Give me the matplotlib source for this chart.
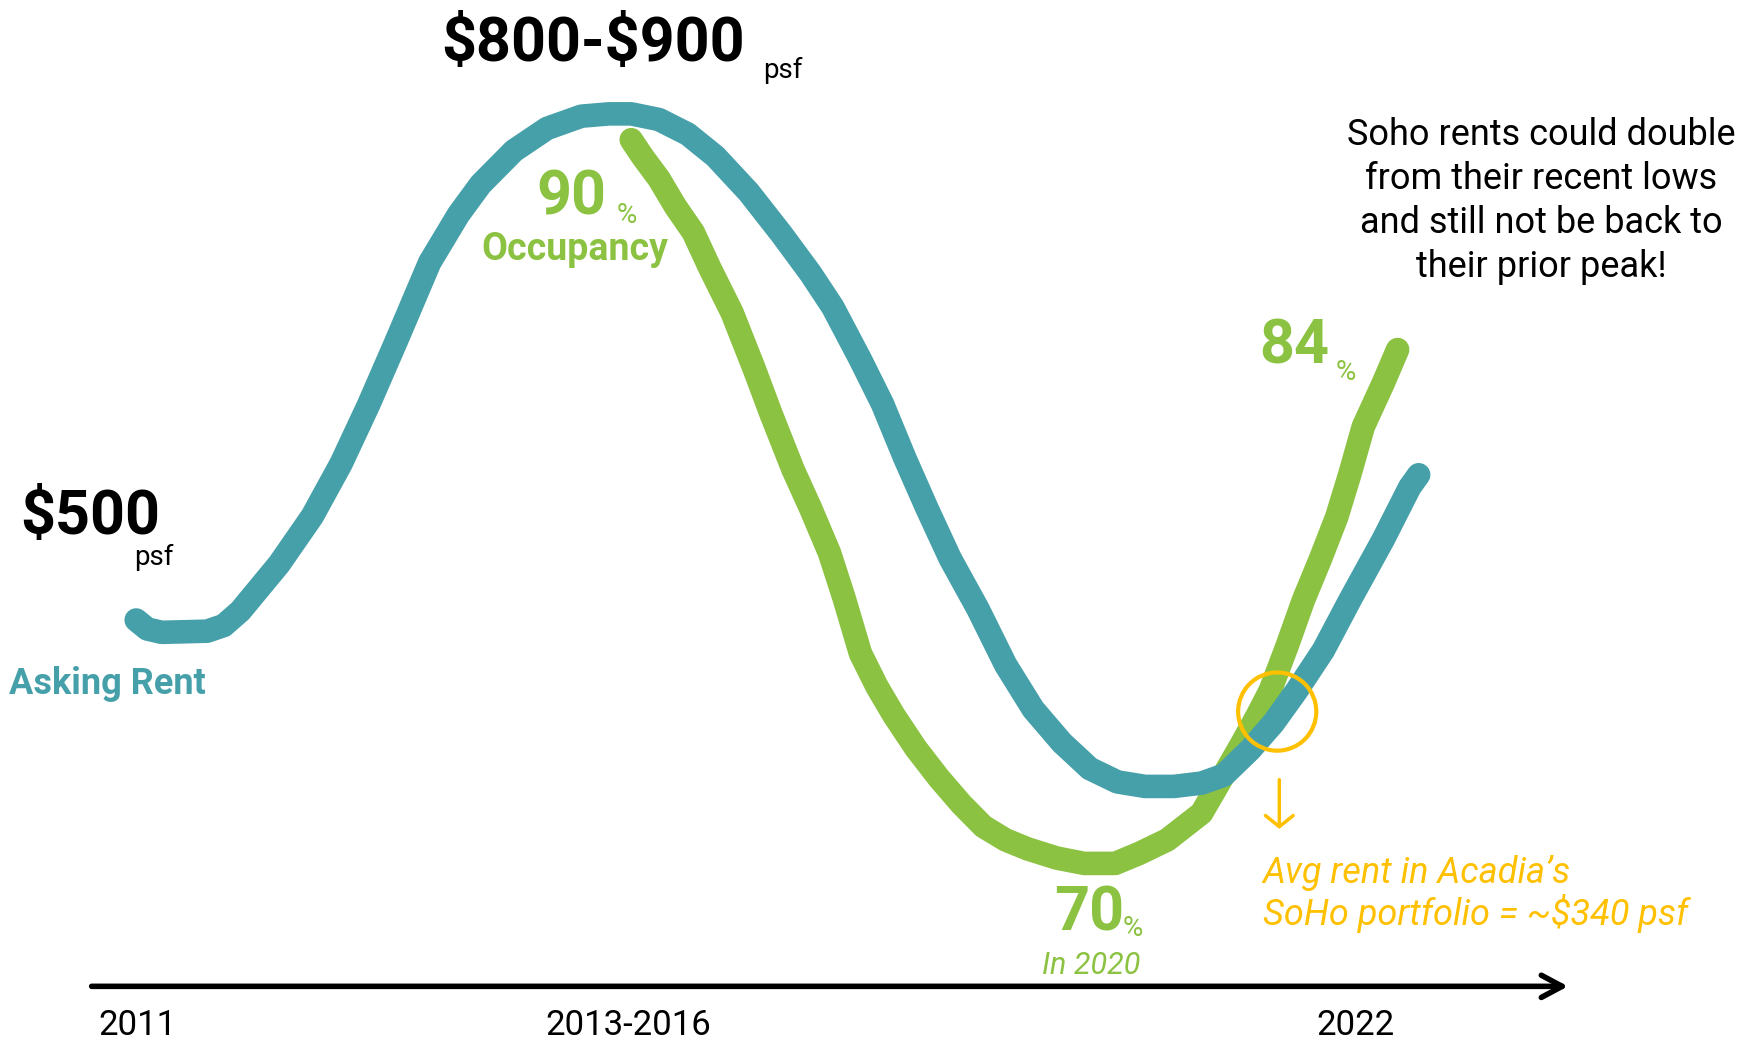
import matplotlib.pyplot as plt
from matplotlib.patches import Ellipse

plt.rcParams["font.family"] = ["Roboto", "DejaVu Sans"]

TEAL = "#46a0a9"
GREEN = "#8bc241"
ORANGE = "#ffc000"

# Asking rent ($ psf)
rent_years = [2010.99, 2011.09, 2011.22, 2011.63, 2011.78, 2011.93, 2012.28, 2012.58,
              2012.84, 2013.09, 2013.34, 2013.64, 2013.90, 2014.10, 2014.40, 2014.70,
              2015.01, 2015.26, 2015.46, 2015.71, 2015.97, 2016.22, 2016.52, 2016.82,
              2017.08, 2017.28, 2017.53, 2017.73, 2017.93, 2018.13, 2018.34, 2018.59,
              2018.84, 2019.09, 2019.35, 2019.60, 2019.85, 2020.10, 2020.36, 2020.61,
              2020.81, 2021.05, 2021.26, 2021.47, 2021.71, 2021.95, 2022.25, 2022.49,
              2022.57]
rent_values = [500.0, 493.8, 491.5, 492.3, 496.2, 506.2, 538.5, 571.5,
               607.7, 648.5, 692.3, 746.2, 779.2, 800.0, 823.1, 838.5,
               846.9, 848.5, 848.5, 844.6, 834.6, 819.2, 794.6, 765.4,
               738.5, 715.4, 679.2, 648.5, 611.5, 576.9, 542.3, 507.7,
               469.2, 438.5, 415.4, 397.7, 388.5, 385.4, 385.4, 387.7,
               393.1, 410.8, 429.2, 451.5, 479.2, 513.8, 555.4, 591.5,
               600.0]

# Occupancy (%)
occ_years = [2015.46, 2015.56, 2015.71, 2015.86, 2016.02, 2016.17, 2016.37, 2016.57,
             2016.72, 2016.92, 2017.08, 2017.25, 2017.38, 2017.53, 2017.68, 2017.83,
             2018.03, 2018.24, 2018.44, 2018.64, 2018.84, 2019.04, 2019.30, 2019.55,
             2019.83, 2020.05, 2020.30, 2020.61, 2020.75, 2020.96, 2021.11, 2021.23,
             2021.38, 2021.53, 2021.68, 2021.83, 2021.95, 2022.07, 2022.25, 2022.38]
occ_values = [90.00, 89.54, 88.92, 88.15, 87.44, 86.45, 85.22, 83.67,
              82.44, 80.89, 79.81, 78.58, 77.35, 75.80, 74.88, 74.10,
              73.18, 72.35, 71.64, 71.02, 70.65, 70.40, 70.15, 70.00,
              70.00, 70.28, 70.65, 71.39, 72.13, 73.24, 74.07, 74.78,
              75.99, 77.28, 78.39, 79.57, 80.77, 82.07, 83.27, 84.20]

timeline_labels = ["2011", "2013-2016", "2022"]
timeline_pos = [2011, 2015.43, 2022]

soho_note = ["Soho rents could double", "from their recent lows",
             "and still not be back to", "their prior peak!"]
acadia_note = ["Avg rent in Acadia\u2019s", "SoHo portfolio = ~\\$340 psf"]

fig = plt.figure(figsize=(17.52, 10.4), dpi=100)
fig.patch.set_facecolor("white")

ax = fig.add_axes([0, 0, 1, 1])
ax.set_xlim(2009.76, 2025.58)
ax.set_ylim(65.12, 93.86)
ax.axis("off")

ax_rent = ax.twinx()
ax_rent.set_ylim(210.8, 926.9)
ax_rent.axis("off")

ax.plot(occ_years, occ_values, color=GREEN, lw=17,
        solid_capstyle="round", solid_joinstyle="round")
ax_rent.plot(rent_years, rent_values, color=TEAL, lw=17,
             solid_capstyle="round", solid_joinstyle="round")

# crossover highlight + note arrow
ax_rent.add_patch(Ellipse((0.729, 0.3158), 0.0446, 0.0752, transform=ax_rent.transAxes,
                          fill=False, ec=ORANGE, lw=3, zorder=5))
ax_rent.annotate("", xy=(0.7302, 0.203), xytext=(0.7302, 0.2503),
                 xycoords="axes fraction", textcoords="axes fraction",
                 arrowprops=dict(arrowstyle="->,head_length=0.4,head_width=0.5",
                                 mutation_scale=20, lw=2.5, color=ORANGE,
                                 shrinkA=0, shrinkB=0))

# timeline
ax_rent.annotate("", xy=(0.895, 0.0516), xytext=(0.0523, 0.0516),
                 xycoords="axes fraction", textcoords="axes fraction",
                 arrowprops=dict(arrowstyle="->,head_length=0.75,head_width=0.4",
                                 mutation_scale=20, lw=4, color="black",
                                 shrinkA=0, shrinkB=0))
for lab, pos in zip(timeline_labels, timeline_pos):
    ax_rent.text(pos, 0.005, lab, transform=ax_rent.get_xaxis_transform(),
                 ha="center", va="baseline", fontsize=25, color="black")

# rent labels
fig.text(0.2519, 0.9409, "\\$800-\\$900", fontsize=44, fontweight="bold", va="baseline")
fig.text(0.4356, 0.9248, "psf", fontsize=20, va="baseline")
fig.text(0.0115, 0.4866, "\\$500", fontsize=44, fontweight="bold", va="baseline")
fig.text(0.0765, 0.4570, "psf", fontsize=20, va="baseline")
fig.text(0.0051, 0.3330, "Asking Rent", fontsize=26, fontweight="bold",
         color=TEAL, va="baseline")

# occupancy labels
fig.text(0.3061, 0.7938, "90", fontsize=44, fontweight="bold", color=GREEN, va="baseline")
fig.text(0.3520, 0.7852, "%", fontsize=20, color=GREEN, va="baseline")
fig.text(0.2749, 0.7497, "Occupancy", fontsize=27, fontweight="bold",
         color=GREEN, va="baseline")
fig.text(0.6014, 0.1053, "70", fontsize=44, fontweight="bold", color=GREEN, va="baseline")
fig.text(0.6410, 0.0998, "%", fontsize=20, color=GREEN, va="baseline")
fig.text(0.5950, 0.0634, "In 2020", fontsize=22, style="italic", color=GREEN, va="baseline")
fig.text(0.7188, 0.6509, "84", fontsize=44, fontweight="bold", color=GREEN, va="baseline")
fig.text(0.7621, 0.6348, "%", fontsize=20, color=GREEN, va="baseline")

# notes
for i, line in enumerate(soho_note):
    fig.text(0.8795, 0.8604 - i * 0.0422, line, fontsize=26, ha="center", va="baseline")
for i, line in enumerate(acadia_note):
    fig.text(0.7207, 0.1514 - i * 0.0408, line, fontsize=26, style="italic",
             color=ORANGE, va="baseline")

fig.savefig("out.png", dpi=100, facecolor="white")
